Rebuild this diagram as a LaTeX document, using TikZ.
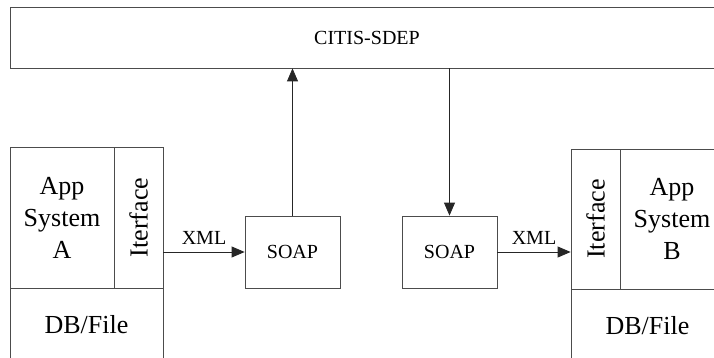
\documentclass[tikz,border=0pt]{standalone}
\usepackage{fontspec}
\usepackage{graphicx}
\setmainfont{Liberation Serif}
\usetikzlibrary{arrows.meta}
\begin{document}
\begin{tikzpicture}[x=1pt, y=-1pt,
    box/.style={draw=black!70, line width=0.8pt, inner sep=0pt, align=center},
    big/.style={font=\fontsize{26}{32}\selectfont},
    small/.style={font=\fontsize{20}{24}\selectfont},
    link/.style={draw=black!85, line width=0.8pt, -{Triangle[length=13pt, width=11pt]}}]
\useasboundingbox (0,0) rectangle (714,358);
\clip (0,0) rectangle (714,358);

% server on top
\node[box, small, minimum width=714pt, minimum height=61pt] (sdep) at (367,37.5) {CITIS-SDEP};

% system A
\node[box, big, minimum width=104pt, minimum height=141pt] (appA) at (62,217.5) {App\\System\\A};
\node[box, big, minimum width=49pt, minimum height=141pt] (ifA) at (138.5,217.5) {\rotatebox{90}{Iterface}};
\node[box, big, minimum width=153pt, minimum height=74pt] (dbA) at (86.5,325) {DB/File};

% system B
\node[box, big, minimum width=49pt, minimum height=140pt] (ifB) at (595.5,219) {\rotatebox{90}{Iterface}};
\node[box, big, minimum width=104pt, minimum height=140pt] (appB) at (672,219) {App\\System\\B};
\node[box, big, minimum width=153pt, minimum height=73pt] (dbB) at (647.5,325.5) {DB/File};

% SOAP
\node[box, small, minimum width=95pt, minimum height=72pt] (soapA) at (292.5,252) {SOAP};
\node[box, small, minimum width=95pt, minimum height=72pt] (soapB) at (449.5,252) {SOAP};

\draw[link] (soapA.west -| ifA.east) -- (soapA.west) node[midway, above=4pt, small]{XML};
\draw[link] (soapA.north) -- (soapA.north |- sdep.south);
\draw[link] (soapB.north |- sdep.south) -- (soapB.north);
\draw[link] (soapB.east) -- (soapB.east -| ifB.west) node[midway, above=4pt, small]{XML};

\end{tikzpicture}
\end{document}
